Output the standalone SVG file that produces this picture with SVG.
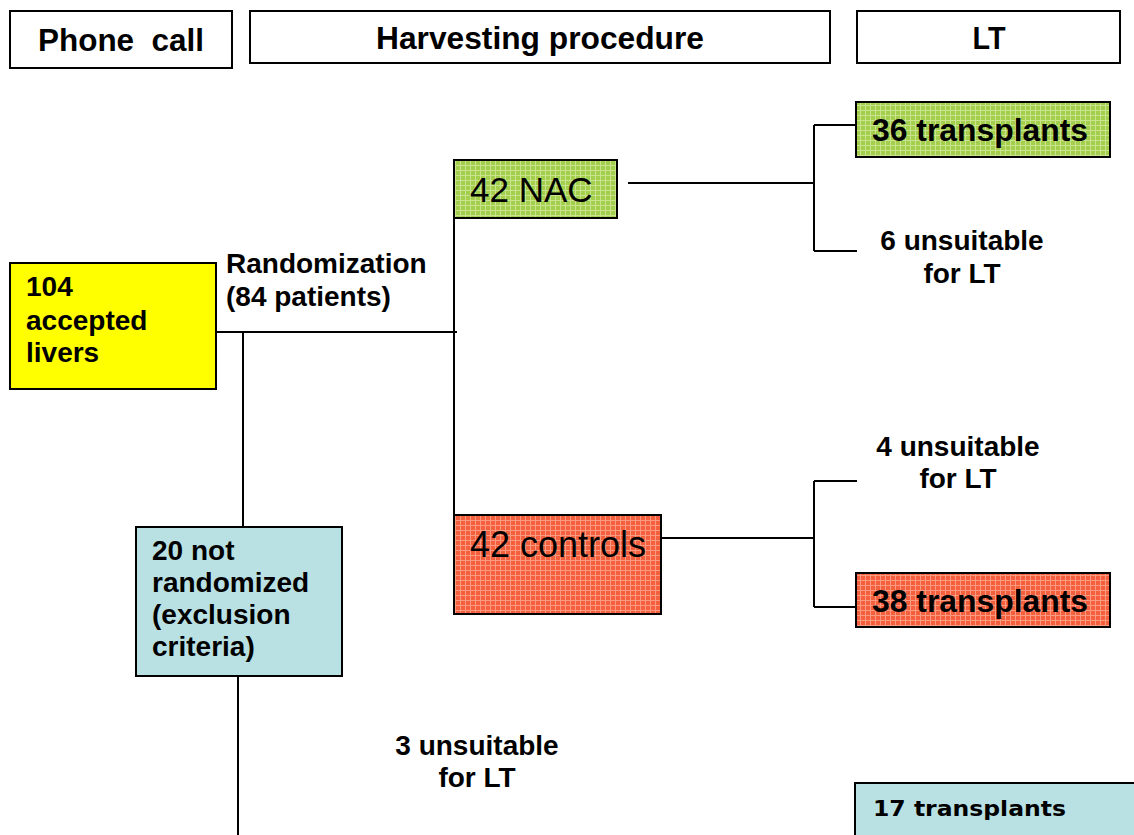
<svg xmlns="http://www.w3.org/2000/svg" width="1134" height="835" viewBox="0 0 1134 835">
<style>
.box{stroke:#000;stroke-width:2}
.hdr{fill:#fff}
.ln{stroke:#000;stroke-width:2;fill:none}
.b{font-family:"Liberation Sans",Arial,sans-serif;font-weight:bold;fill:#000}
.r{font-family:"Liberation Sans",Arial,sans-serif;fill:#000}
.v{font-family:"DejaVu Sans",Verdana,sans-serif;font-weight:bold;fill:#000}
</style>
<defs>
<pattern id="pg" width="5" height="5" patternUnits="userSpaceOnUse">
<rect width="5" height="5" fill="#a4cf4c"/>
<path d="M0 0.5H5M0.5 0V5" stroke="#c9e38f" stroke-width="1"/>
</pattern>
<pattern id="pr" width="5" height="5" patternUnits="userSpaceOnUse">
<rect width="5" height="5" fill="#f4603e"/>
<path d="M0 0.5H5M0.5 0V5" stroke="#fb9a80" stroke-width="1"/>
</pattern>
</defs>
<rect width="1134" height="835" fill="#fff"/>

<g id="connectors">
<path class="ln" d="M216 332H457"/>
<path class="ln" d="M243 332V527"/>
<path class="ln" d="M454 218V515"/>
<path class="ln" d="M628 183H814"/>
<path class="ln" d="M814 125V251"/>
<path class="ln" d="M814 125H856"/>
<path class="ln" d="M814 251H857"/>
<path class="ln" d="M661 538H814"/>
<path class="ln" d="M814 481V607"/>
<path class="ln" d="M814 481H857"/>
<path class="ln" d="M814 607H856"/>
<path class="ln" d="M238 676V835"/>
</g>

<g id="hdr-phone">
<rect class="box hdr" x="10" y="11" width="222" height="57"/>
<text class="b" x="38" y="51" font-size="32" textLength="166" lengthAdjust="spacingAndGlyphs" xml:space="preserve">Phone  call</text>
</g>
<g id="hdr-harvest">
<rect class="box hdr" x="250" y="11" width="580" height="52"/>
<text class="b" x="540" y="49" font-size="32" text-anchor="middle" textLength="328" lengthAdjust="spacingAndGlyphs">Harvesting procedure</text>
</g>
<g id="hdr-lt">
<rect class="box hdr" x="857" y="11" width="263" height="52"/>
<text class="b" x="989" y="49" font-size="32" text-anchor="middle" textLength="33" lengthAdjust="spacingAndGlyphs">LT</text>
</g>

<g id="accepted">
<rect class="box" x="10" y="263" width="206" height="126" fill="#ffff00"/>
<text class="b" x="26" y="296" font-size="28">104</text>
<text class="b" x="26" y="330" font-size="28">accepted</text>
<text class="b" x="26" y="362" font-size="28">livers</text>
</g>

<g id="randomization">
<text class="b" x="226" y="273" font-size="28">Randomization</text>
<text class="b" x="226" y="306" font-size="28">(84 patients)</text>
</g>

<g id="nac">
<rect class="box" x="454" y="160" width="163" height="58" fill="url(#pg)"/>
<text class="r" x="470" y="202" font-size="35">42 NAC</text>
</g>

<g id="nac-36">
<rect class="box" x="856" y="102" width="254" height="55" fill="url(#pg)"/>
<text class="b" x="872" y="141" font-size="31" textLength="216" lengthAdjust="spacingAndGlyphs">36 transplants</text>
</g>

<g id="nac-6">
<text class="b" x="962" y="250" font-size="28" text-anchor="middle">6 unsuitable</text>
<text class="b" x="962" y="283" font-size="28" text-anchor="middle">for LT</text>
</g>

<g id="controls">
<rect class="box" x="454" y="515" width="207" height="99" fill="url(#pr)"/>
<text class="r" x="470" y="557" font-size="36">42 controls</text>
</g>

<g id="ctrl-4">
<text class="b" x="958" y="456" font-size="28" text-anchor="middle">4 unsuitable</text>
<text class="b" x="958" y="488" font-size="28" text-anchor="middle">for LT</text>
</g>

<g id="ctrl-38">
<rect class="box" x="856" y="573" width="254" height="54" fill="url(#pr)"/>
<text class="b" x="872" y="612" font-size="31" textLength="216" lengthAdjust="spacingAndGlyphs">38 transplants</text>
</g>

<g id="not-randomized">
<rect class="box" x="136" y="527" width="206" height="149" fill="#b9e0e3"/>
<text class="b" x="152" y="560" font-size="28">20 not</text>
<text class="b" x="152" y="592" font-size="28">randomized</text>
<text class="b" x="152" y="624" font-size="28">(exclusion</text>
<text class="b" x="152" y="656" font-size="28">criteria)</text>
</g>

<g id="nr-3">
<text class="b" x="477" y="755" font-size="28" text-anchor="middle">3 unsuitable</text>
<text class="b" x="477" y="787" font-size="28" text-anchor="middle">for LT</text>
</g>

<g id="nr-17">
<rect class="box" x="855" y="783" width="290" height="60" fill="#b9e0e3"/>
<text class="v" x="873" y="816" font-size="22" textLength="193" lengthAdjust="spacingAndGlyphs">17 transplants</text>
</g>
</svg>
